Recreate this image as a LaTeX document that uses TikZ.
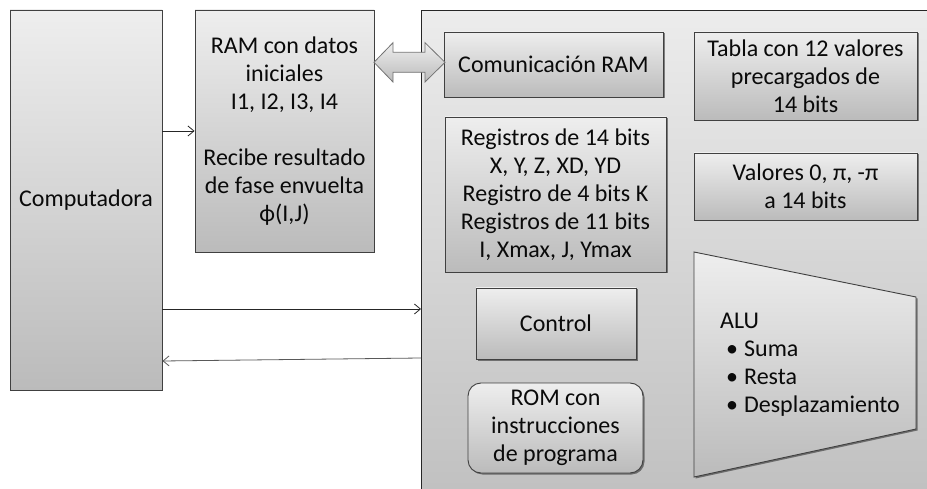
\documentclass[tikz,border=0pt]{standalone}
\usepackage{fontspec}
\setmainfont{Carlito}
\usetikzlibrary{arrows.meta,shadows}
\definecolor{gtop}{HTML}{EEEEEE}
\definecolor{gbot}{HTML}{BBBBBB}
\definecolor{btop}{HTML}{ECECEC}
\definecolor{bbot}{HTML}{BFBFBF}
\definecolor{txt}{HTML}{0A0A0A}
\begin{document}
\begin{tikzpicture}[x=1pt,y=-1pt,
  font=\fontsize{24}{28}\selectfont,
  box/.style={draw=black!75, line width=0.9pt, top color=gtop, bottom color=gbot,
    align=center, inner sep=0pt, text=txt},
  sbox/.style={box, drop shadow={shadow xshift=1.5pt, shadow yshift=-1.5pt, opacity=0.45, fill=black}},
  conn/.style={draw=black!85, line width=0.8pt, -{Straight Barb[length=6pt,width=10pt]}},
  connback/.style={draw=black!65, line width=0.8pt, -{Straight Barb[length=6pt,width=10pt]}},
]
\useasboundingbox (0,0) rectangle (927,489);
\clip (0,0) rectangle (927,489);
\fill[white] (0,0) rectangle (927,489);

% outer blocks
\node[box, minimum width=152pt, minimum height=380pt] (comp) at (86,200) {Computadora};
\node[box, minimum width=179pt, minimum height=242pt] (ram) at (284.5,131)
  {RAM con datos\\iniciales\\I1, I2, I3, I4\\[28pt]Recibe resultado\\de fase envuelta\\ϕ(I,J)};
\node[box, draw=black!85, top color=btop, bottom color=bbot, anchor=north west,
  minimum width=540pt, minimum height=500pt] (fpga) at (421,10) {};

% inner blocks
\node[sbox, minimum width=219pt, minimum height=65pt] (com) at (553.5,64.5) {Comunicación RAM};
\node[sbox, minimum width=223pt, minimum height=88pt] (tabla) at (805.5,76)
  {Tabla con 12 valores\\precargados de\\14 bits};
\node[sbox, minimum width=221pt, minimum height=155pt] (reg) at (555.5,194.5)
  {Registros de 14 bits\\X, Y, Z, XD, YD\\Registro de 4 bits K\\Registros de 11 bits\\I, Xmax, J, Ymax};
\node[sbox, minimum width=223pt, minimum height=67pt] (val) at (805.5,186.5)
  {Valores 0, π, -π\\a 14 bits};
\node[sbox, minimum width=160pt, minimum height=71pt] (ctrl) at (556,323.5) {Control};
\node[sbox, rounded corners=13pt, minimum width=175pt, minimum height=90pt] (rom) at (555.5,428)
  {ROM con\\instrucciones\\de programa};

% ALU trapezoid
\path[draw=black!75, line width=0.9pt, top color=gtop, bottom color=gbot,
  drop shadow={shadow xshift=1.5pt, shadow yshift=-1.5pt, opacity=0.45, fill=black}]
  (694,252) -- (916,297) -- (916,429) -- (694,477) -- cycle;
\node[anchor=west, align=left, inner sep=0pt, text=txt] (alu) at (720,365)
  {ALU\\\hspace*{6pt}•\hspace{6pt}Suma\\\hspace*{6pt}•\hspace{6pt}Resta\\\hspace*{6pt}•\hspace{6pt}Desplazamiento};

% double arrow between RAM and Comunicacion RAM
\path[draw=black!55, line width=0.8pt, top color=gtop, bottom color=gbot]
  (374,62.3) -- (393,42.7) -- (393,52.3) -- (425,52.3) -- (425,42.7) -- (445,62.3)
  -- (425,82) -- (425,72.3) -- (393,72.3) -- (393,82) -- cycle;

% connectors
\coordinate (y1) at (0,309);
\coordinate (y2a) at (0,358);
\coordinate (y2b) at (0,361);
\draw[conn] (comp.east |- ram.west) -- (ram.west);
\draw[conn] (comp.east |- y1) -- (fpga.west |- y1);
\draw[connback] (fpga.west |- y2a) -- (comp.east |- y2b);
\end{tikzpicture}
\end{document}
